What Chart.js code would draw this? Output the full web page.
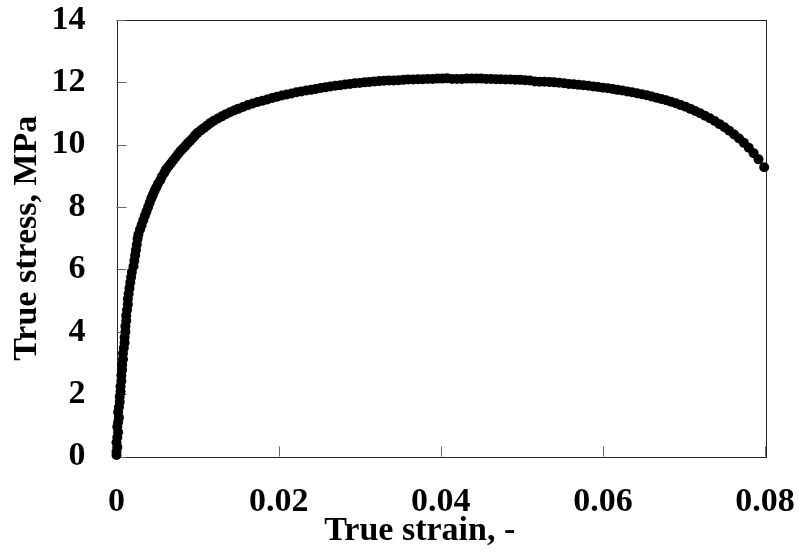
<!DOCTYPE html>
<html>
<head>
<meta charset="utf-8">
<script src="https://cdn.jsdelivr.net/npm/chart.js@4/dist/chart.umd.min.js"></script>
<style>
  html, body { margin: 0; padding: 0; background: #fff; }
  #wrap { width: 799px; height: 553px; }
</style>
</head>
<body>
<div id="wrap"><canvas id="c" width="799" height="553"></canvas></div>
<script>
// ---- data ----
const trueStrain = [
  0.0000, 0.0000, 0.0001, 0.0000, 0.0001, 0.0002, 0.0001, 0.0002, 0.0003, 0.0002,
  0.0003, 0.0004, 0.0004, 0.0005, 0.0005, 0.0006, 0.0006, 0.0007, 0.0007, 0.0008,
  0.0008, 0.0009, 0.0010, 0.0010, 0.0011, 0.0011, 0.0012, 0.0012, 0.0013, 0.0014,
  0.0014, 0.0015, 0.0016, 0.0017, 0.0018, 0.0019, 0.0021, 0.0022, 0.0023, 0.0024,
  0.0025, 0.0026, 0.0027, 0.0029, 0.0031, 0.0033, 0.0035, 0.0037, 0.0039, 0.0041,
  0.0043, 0.0045, 0.0047, 0.0049, 0.0051, 0.0054, 0.0056, 0.0059, 0.0061, 0.0064,
  0.0067, 0.0070, 0.0073, 0.0076, 0.0079, 0.0082, 0.0085, 0.0088, 0.0091, 0.0094,
  0.0097, 0.0100, 0.0104, 0.0108, 0.0112, 0.0116, 0.0120, 0.0125, 0.0130, 0.0135,
  0.0140, 0.0145, 0.0150, 0.0156, 0.0162, 0.0168, 0.0174, 0.0180, 0.0186, 0.0192,
  0.0198, 0.0204, 0.0210, 0.0216, 0.0222, 0.0228, 0.0234, 0.0240, 0.0246, 0.0252,
  0.0258, 0.0264, 0.0270, 0.0276, 0.0282, 0.0288, 0.0294, 0.0300, 0.0306, 0.0312,
  0.0318, 0.0324, 0.0330, 0.0336, 0.0342, 0.0348, 0.0354, 0.0360, 0.0366, 0.0372,
  0.0378, 0.0384, 0.0390, 0.0396, 0.0402, 0.0408, 0.0414, 0.0420, 0.0426, 0.0432,
  0.0438, 0.0444, 0.0450, 0.0456, 0.0462, 0.0468, 0.0474, 0.0480, 0.0486, 0.0492,
  0.0498, 0.0504, 0.0510, 0.0516, 0.0522, 0.0528, 0.0534, 0.0540, 0.0546, 0.0552,
  0.0558, 0.0564, 0.0570, 0.0576, 0.0582, 0.0588, 0.0594, 0.0600, 0.0606, 0.0612,
  0.0618, 0.0624, 0.0630, 0.0636, 0.0642, 0.0648, 0.0654, 0.0660, 0.0666, 0.0672,
  0.0678, 0.0684, 0.0690, 0.0696, 0.0702, 0.0708, 0.0714, 0.0720, 0.0726, 0.0732,
  0.0738, 0.0744, 0.0750, 0.0756, 0.0762, 0.0768, 0.0774, 0.0780, 0.0786, 0.0792,
  0.0799
];
const trueStress = [
  0.05, 0.15, 0.30, 0.45, 0.62, 0.78, 0.95, 1.10, 1.25, 1.42,
  1.58, 1.75, 1.92, 2.08, 2.25, 2.42, 2.60, 2.78, 2.95, 3.12,
  3.30, 3.48, 3.65, 3.82, 4.00, 4.18, 4.35, 4.52, 4.70, 4.88,
  5.05, 5.22, 5.40, 5.58, 5.75, 5.92, 6.10, 6.28, 6.45, 6.62,
  6.80, 6.98, 7.12, 7.28, 7.42, 7.58, 7.72, 7.86, 8.00, 8.14,
  8.28, 8.40, 8.52, 8.63, 8.74, 8.86, 8.98, 9.10, 9.20, 9.30,
  9.40, 9.50, 9.60, 9.70, 9.80, 9.88, 9.96, 10.05, 10.13, 10.21,
  10.30, 10.38, 10.46, 10.54, 10.62, 10.70, 10.77, 10.84, 10.91, 10.98,
  11.04, 11.10, 11.15, 11.21, 11.27, 11.32, 11.37, 11.41, 11.45, 11.50,
  11.54, 11.58, 11.61, 11.64, 11.68, 11.71, 11.74, 11.76, 11.79, 11.82,
  11.84, 11.87, 11.89, 11.91, 11.93, 11.95, 11.97, 11.98, 12.00, 12.01,
  12.03, 12.04, 12.05, 12.06, 12.06, 12.07, 12.08, 12.09, 12.09, 12.10,
  12.10, 12.11, 12.11, 12.12, 12.12, 12.13, 12.11, 12.11, 12.11, 12.12,
  12.12, 12.12, 12.12, 12.11, 12.11, 12.10, 12.10, 12.09, 12.09, 12.08,
  12.08, 12.07, 12.06, 12.03, 12.02, 12.02, 12.01, 12.00, 11.99, 11.97,
  11.95, 11.94, 11.92, 11.91, 11.89, 11.87, 11.85, 11.83, 11.81, 11.79,
  11.76, 11.74, 11.71, 11.68, 11.65, 11.62, 11.59, 11.55, 11.51, 11.47,
  11.43, 11.38, 11.33, 11.27, 11.22, 11.15, 11.08, 11.01, 10.93, 10.85,
  10.76, 10.66, 10.56, 10.45, 10.33, 10.20, 10.06, 9.90, 9.73, 9.53,
  9.28
];
const xTickValues = [0, 0.02, 0.04, 0.06, 0.08];
const xTickLabels = ['0', '0.02', '0.04', '0.06', '0.08'];
const yTickValues = [0, 2, 4, 6, 8, 10, 12, 14];
const xTitle = 'True strain, -';
const yTitle = 'True stress, MPa';

const points = trueStrain.map((x, i) => ({ x: x, y: trueStress[i] }));
const FONT = '"Liberation Serif", "Times New Roman", serif';

// Box around plot + inward tick marks, drawn through the scales
const frameAndTicks = {
  id: 'frameAndTicks',
  beforeDatasetsDraw(chart) {
    const { ctx, chartArea: a, scales } = chart;
    ctx.save();
    ctx.strokeStyle = '#222';
    ctx.lineWidth = 1;
    ctx.strokeRect(Math.round(a.left) + 0.5, Math.round(a.top) + 0.5,
                   Math.round(a.right - a.left), Math.round(a.bottom - a.top));
    ctx.strokeStyle = '#666';
    ctx.beginPath();
    yTickValues.forEach(v => {
      const y = Math.round(scales.y.getPixelForValue(v)) + 0.5;
      ctx.moveTo(a.left, y); ctx.lineTo(a.left + 10, y);
    });
    xTickValues.forEach(v => {
      const x = Math.round(scales.x.getPixelForValue(v)) + 0.5;
      ctx.moveTo(x, a.bottom); ctx.lineTo(x, a.bottom - 10);
    });
    ctx.stroke();
    ctx.restore();
  },
  afterDraw(chart) {
    // x-axis title, placed slightly left of the plot centre as in the reference
    const { ctx, chartArea: a } = chart;
    ctx.save();
    ctx.fillStyle = '#000';
    ctx.font = 'bold 34px ' + FONT;
    ctx.textAlign = 'center';
    ctx.textBaseline = 'middle';
    ctx.fillText(xTitle, (a.left + a.right) / 2 - 21, 531);
    ctx.restore();
  }
};

new Chart(document.getElementById('c'), {
  type: 'scatter',
  data: {
    datasets: [{
      data: points,
      backgroundColor: '#000',
      borderColor: '#000',
      borderWidth: 0,
      pointRadius: 5,
      pointHoverRadius: 5,
      clip: false
    }]
  },
  options: {
    responsive: false,
    animation: false,
    events: [],
    layout: { padding: { left: 0, right: 34, top: 20, bottom: 0 } },
    plugins: { legend: { display: false }, tooltip: { enabled: false } },
    scales: {
      x: {
        type: 'linear', min: 0, max: 0.08,
        afterBuildTicks(s) { s.ticks = xTickValues.map(v => ({ value: v })); },
        afterFit(s) { s.height = 96.5; s.paddingLeft = 0; s.paddingRight = 0; },
        grid: { display: false, drawTicks: false },
        border: { display: false },
        ticks: {
          padding: 25,
          color: '#000',
          font: { family: FONT, size: 34, weight: 'bold' },
          callback: (v, i) => xTickLabels[i],
          maxRotation: 0, autoSkip: false
        },
        title: { display: false }
      },
      y: {
        type: 'linear', min: 0, max: 14,
        afterBuildTicks(s) { s.ticks = yTickValues.map(v => ({ value: v })); },
        afterFit(s) { s.width = 116.5; s.paddingTop = 0; s.paddingBottom = 0; },
        grid: { display: false, drawTicks: false },
        border: { display: false },
        ticks: {
          padding: 31,
          color: '#000',
          font: { family: FONT, size: 34, weight: 'bold' },
          callback: v => String(v),
          autoSkip: false
        },
        title: {
          display: true, text: yTitle, color: '#000',
          font: { family: FONT, size: 34, weight: 'bold' },
          padding: { top: 7, bottom: 0 }
        }
      }
    }
  },
  plugins: [frameAndTicks]
});
</script>
</body>
</html>
